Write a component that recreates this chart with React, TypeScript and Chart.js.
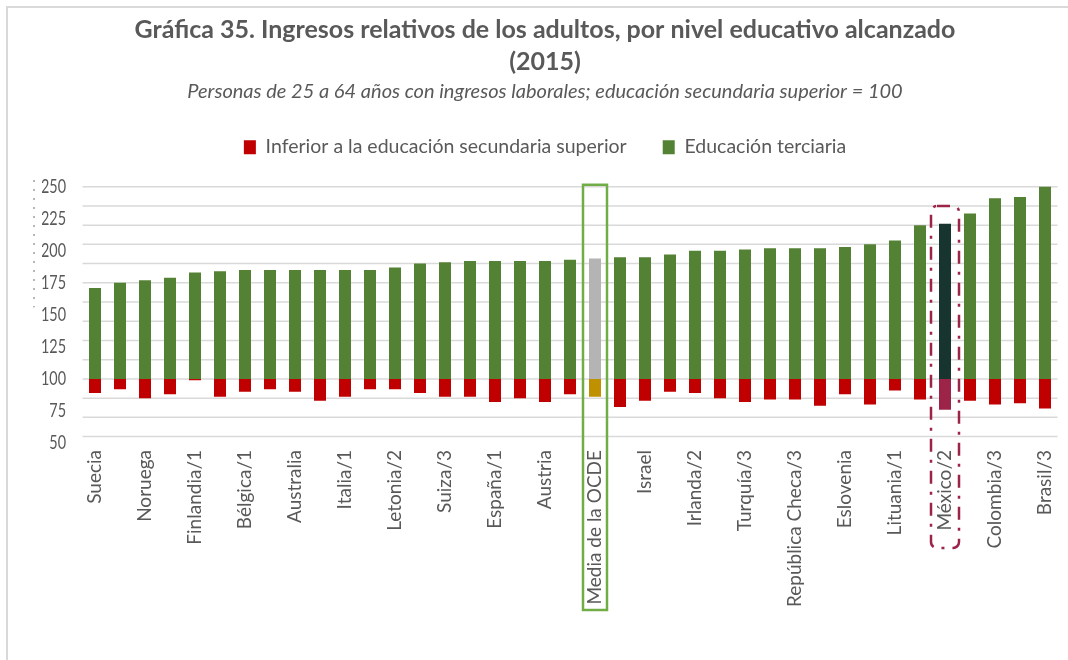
import React, { useEffect, useRef } from "react";
import { Chart, registerables } from "chart.js";

Chart.register(...registerables);

const categories = [
  "Suecia", "Dinamarca", "Noruega", "Estonia", "Finlandia/1", "Nueva Zelanda",
  "Bélgica/1", "Grecia", "Australia", "Canadá/1", "Italia/1", "Corea",
  "Letonia/2", "Reino Unido", "Suiza/3", "Países Bajos/1", "España/1", "Japón",
  "Austria", "Francia/1", "Media de la OCDE", "Luxemburgo/1", "Israel", "Alemania",
  "Irlanda/2", "Polonia/2", "Turquía/3", "Portugal", "República Checa/3", "Estados Unidos",
  "Eslovenia", "Eslovaquia", "Lituania/1", "Hungría", "México/2", "Costa Rica",
  "Colombia/3", "Chile/2", "Brasil/3",
];

const belowUpperSecondary = [
  89, 92, 85, 88, 99, 86, 90, 92, 90, 83, 86, 92, 92, 89, 86, 86, 82, 85, 82, 88,
  86, 78, 83, 90, 89, 85, 82, 84, 84, 79, 88, 80, 91, 84, 76, 83, 80, 81, 77,
];

const tertiary = [
  171, 175, 177, 179, 183, 184, 185, 185, 185, 185, 185, 185, 187, 190, 191, 192, 192, 192, 192, 193,
  194, 195, 195, 197, 200, 200, 201, 202, 202, 202, 203, 205, 208, 220, 221, 229, 241, 242, 250,
];

const yTickValues = [50, 75, 100, 125, 150, 175, 200, 225, 250];
const gridValues = [55, 70, 85, 100, 115, 130, 145, 160, 175, 190, 205, 220, 235, 250];
const baseline = 100;
const oecdLabel = "Media de la OCDE";
const mexicoLabel = "México/2";

const GRAY = "#595959";
const RED = "#c00000";
const GREEN = "#548235";
const OECD_GREEN = "#b4b4b4";
const OECD_RED = "#bf9000";
const MEX_GREEN = "#17352e";
const MEX_RED = "#9d2449";

export default function App() {
  const ref = useRef<HTMLCanvasElement>(null);

  useEffect(() => {
    const oecd = categories.indexOf(oecdLabel);
    const mex = categories.indexOf(mexicoLabel);

    const decor = {
      id: "decor",
      afterLayout(chart: any) {
        // condensed look for the value-axis labels (narrow font as in the original)
        const s = chart.scales.y;
        if (s && !s.__condensed) {
          s.__condensed = true;
          const orig = s.drawLabels.bind(s);
          s.drawLabels = (area: any) => {
            const ctx = chart.ctx;
            const r = s.right - s.options.ticks.padding;
            ctx.save();
            ctx.translate(r, 0);
            ctx.scale(0.72, 1);
            ctx.translate(-r, 0);
            orig(area);
            ctx.restore();
          };
        }
      },
      beforeDatasetsDraw(chart: any) {
        const { ctx, chartArea, scales } = chart;
        const y = scales.y;
        ctx.save();
        ctx.strokeStyle = "#d9d9d9";
        ctx.lineWidth = 1.5;
        for (const v of gridValues) {
          const py = y.getPixelForValue(v);
          ctx.beginPath();
          ctx.moveTo(chartArea.left, py);
          ctx.lineTo(chartArea.right, py);
          ctx.stroke();
        }
        // dotted marks left of the axis labels
        ctx.strokeStyle = "#7f7f7f";
        ctx.lineWidth = 1.5;
        ctx.setLineDash([1.5, 7.5]);
        ctx.beginPath();
        ctx.moveTo(chartArea.left - 48.5, y.getPixelForValue(255));
        ctx.lineTo(chartArea.left - 48.5, y.getPixelForValue(156));
        ctx.stroke();
        ctx.restore();
      },
      afterDraw(chart: any) {
        const { ctx, chartArea, scales } = chart;
        const x = scales.x;
        const y = scales.y;
        ctx.save();
        // OECD box
        const cx = x.getPixelForValue(oecd);
        const oTop = y.getPixelForValue(251.5);
        ctx.strokeStyle = "#70ad47";
        ctx.lineWidth = 2.5;
        ctx.strokeRect(cx - 12, oTop, 24, chartArea.bottom + 167 - oTop);
        // Mexico box
        const mx = x.getPixelForValue(mex);
        const top = y.getPixelForValue(235);
        const bottom = chartArea.bottom + 105;
        ctx.strokeStyle = MEX_RED;
        ctx.lineWidth = 2.5;
        ctx.setLineDash([13, 8, 3, 8]);
        ctx.beginPath();
        (ctx as any).roundRect(mx - 14, top, 28, bottom - top, 6);
        ctx.stroke();
        ctx.restore();
      },
    };

    const chart = new Chart(ref.current as HTMLCanvasElement, {
      type: "bar",
      data: {
        labels: categories,
        datasets: [
          {
            label: "Inferior a la educación secundaria superior",
            data: belowUpperSecondary.map((v) => [v, baseline]) as any,
            backgroundColor: (c: any) =>
              c.dataIndex === oecd ? OECD_RED : c.dataIndex === mex ? MEX_RED : RED,
            borderWidth: 0,
            categoryPercentage: 0.6,
            barPercentage: 0.8,
          },
          {
            label: "Educación terciaria",
            data: tertiary.map((v) => [baseline, v]) as any,
            backgroundColor: (c: any) =>
              c.dataIndex === oecd ? OECD_GREEN : c.dataIndex === mex ? MEX_GREEN : GREEN,
            borderWidth: 0,
            categoryPercentage: 0.6,
            barPercentage: 0.8,
          },
        ],
      },
      options: {
        responsive: false,
        animation: false,
        devicePixelRatio: 1,
        layout: { padding: { left: 24.5, right: 18.5, top: 0, bottom: 0 } },
        plugins: {
          title: {
            display: true,
            text: [
              "Gráfica 35. Ingresos relativos de los adultos, por nivel educativo alcanzado",
              "(2015)",
            ],
            color: GRAY,
            font: { family: "Lato", size: 25, weight: "bold", lineHeight: 1.28 },
            padding: { top: 6, bottom: 3 },
          },
          subtitle: {
            display: true,
            text: "Personas de 25 a 64 años con ingresos laborales; educación secundaria superior = 100",
            color: GRAY,
            font: { family: "Lato", size: 20, style: "italic", lineHeight: 1.02 },
            padding: { top: 0, bottom: 0 },
          },
          legend: {
            display: true,
            position: "top",
            labels: {
              color: GRAY,
              font: { family: "Lato", size: 19.5 },
              boxWidth: 12,
              boxHeight: 14,
              padding: 36,
            },
          },
          tooltip: { enabled: false },
        },
        scales: {
          x: {
            stacked: true,
            grid: { display: false, drawTicks: false },
            border: { display: false },
            ticks: {
              autoSkip: false,
              maxRotation: 90,
              minRotation: 90,
              padding: 7,
              color: GRAY,
              font: { family: "Lato", size: 19 },
              callback: (_v: any, i: number) => (i % 2 === 0 ? categories[i] : ""),
            },
            afterFit: (s: any) => {
              s.height = 217;
            },
          },
          y: {
            min: 50,
            max: 265.45,
            grid: { display: false, drawTicks: false },
            border: { display: false },
            ticks: {
              padding: 16.5,
              color: GRAY,
              font: { family: "Lato", size: 20 },
            },
            afterBuildTicks: (s: any) => {
              s.ticks = yTickValues.map((v) => ({ value: v }));
            },
            afterFit: (s: any) => {
              s.width = 50;
            },
          },
        },
      },
      plugins: [decor],
    } as any);

    return () => chart.destroy();
  }, []);

  return (
    <div
      style={{
        position: "fixed",
        left: 0,
        top: 0,
        width: 1068,
        height: 660,
        overflow: "hidden",
        background: "#ffffff",
      }}
    >
      <div
        style={{
          position: "absolute",
          left: 6,
          top: 6,
          width: 1100,
          height: 700,
          border: "2px solid #d9d9d9",
        }}
      />
      <canvas
        ref={ref}
        width={1068}
        height={652}
        style={{ position: "absolute", left: 8, top: 8, width: 1068, height: 652 }}
      />
    </div>
  );
}
